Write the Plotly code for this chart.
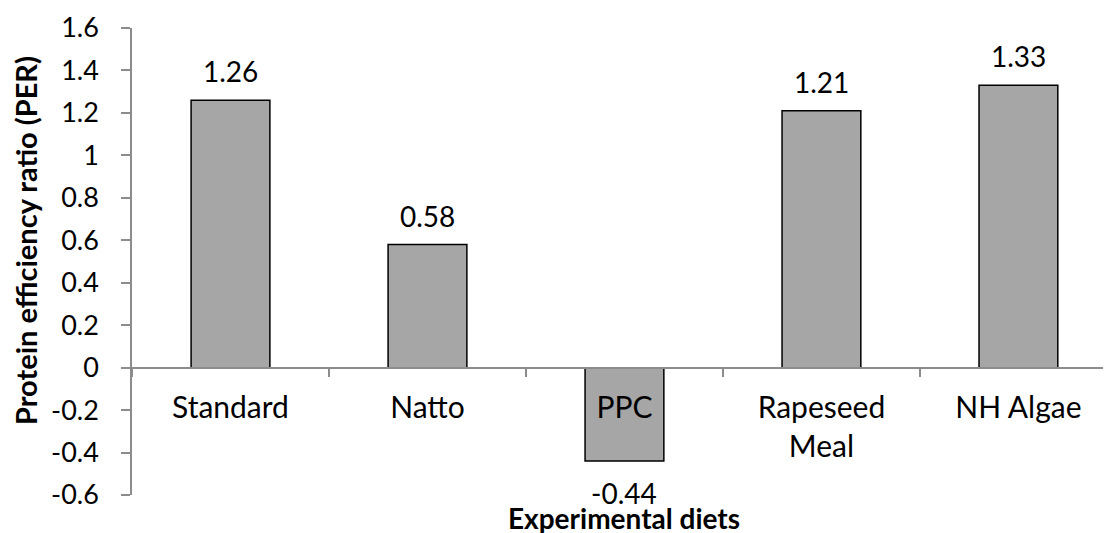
import plotly.graph_objects as go

categories = ["Standard", "Natto", "PPC", "Rapeseed<br>Meal", "NH Algae"]
values = [1.26, 0.58, -0.44, 1.21, 1.33]
ytick_vals = [-0.6, -0.4, -0.2, 0, 0.2, 0.4, 0.6, 0.8, 1.0, 1.2, 1.4, 1.6]
ytick_text = ["-0.6", "-0.4", "-0.2", "0", "0.2", "0.4", "0.6", "0.8", "1", "1.2", "1.4", "1.6"]
y_title = "Protein efficiency ratio (PER)"
x_title = "Experimental diets"

FONT = "Lato"
AXIS_GRAY = "#8c8c8c"
YMIN, YMAX = -0.6, 1.6

fig = go.Figure()
fig.add_trace(go.Bar(
    x=categories, y=values,
    marker=dict(color="#A6A6A6", line=dict(color="black", width=1.5)),
    width=0.4, showlegend=False, hoverinfo="skip",
))

# data labels
for c, v in zip(categories, values):
    fig.add_annotation(
        x=c, y=v, xref="x", yref="y", text=f"{v:.2f}", showarrow=False,
        yanchor="middle", yshift=29 if v >= 0 else -32,
        font=dict(family=FONT, size=28, color="black"),
    )

# axis titles
fig.add_annotation(
    x=-0.1093, y=0.546, xref="paper", yref="paper", text=f"<b>{y_title}</b>",
    textangle=-90, showarrow=False, xanchor="center", yanchor="middle",
    font=dict(family=FONT, size=29, color="black"),
)
fig.add_annotation(
    x=2, y=-0.05, xref="x", yref="paper", text=f"<b>{x_title}</b>",
    showarrow=False, xanchor="center", yanchor="middle",
    font=dict(family=FONT, size=28, color="black"),
)

zero_pos = (0 - YMIN) / (YMAX - YMIN)

# page body has an 8px default margin, so the figure is sized to fit the window
fig.update_layout(
    width=1103, height=525,
    margin=dict(l=124, r=0, t=20, b=38, autoexpand=False),
    paper_bgcolor="white", plot_bgcolor="white",
    font=dict(family=FONT, color="black"),
    xaxis=dict(
        type="category", range=[-0.5, 4.47], automargin=False,
        anchor="free", position=zero_pos,
        showline=True, linecolor=AXIS_GRAY, linewidth=1.5,
        ticks="outside", ticklen=9, tickcolor=AXIS_GRAY, tickwidth=1.5,
        tickson="boundaries", showgrid=False, zeroline=False,
        tickfont=dict(family=FONT, size=30, color="black"),
        ticklabelstandoff=14,
    ),
    yaxis=dict(
        range=[YMIN, YMAX], tickvals=ytick_vals, ticktext=ytick_text,
        automargin=False,
        showline=True, linecolor=AXIS_GRAY, linewidth=1.5,
        ticks="outside", ticklen=9, tickcolor=AXIS_GRAY, tickwidth=1.5,
        showgrid=False, zeroline=False,
        tickfont=dict(family=FONT, size=27, color="black"),
        ticklabelstandoff=17,
    ),
)

fig.write_html("out.html")
